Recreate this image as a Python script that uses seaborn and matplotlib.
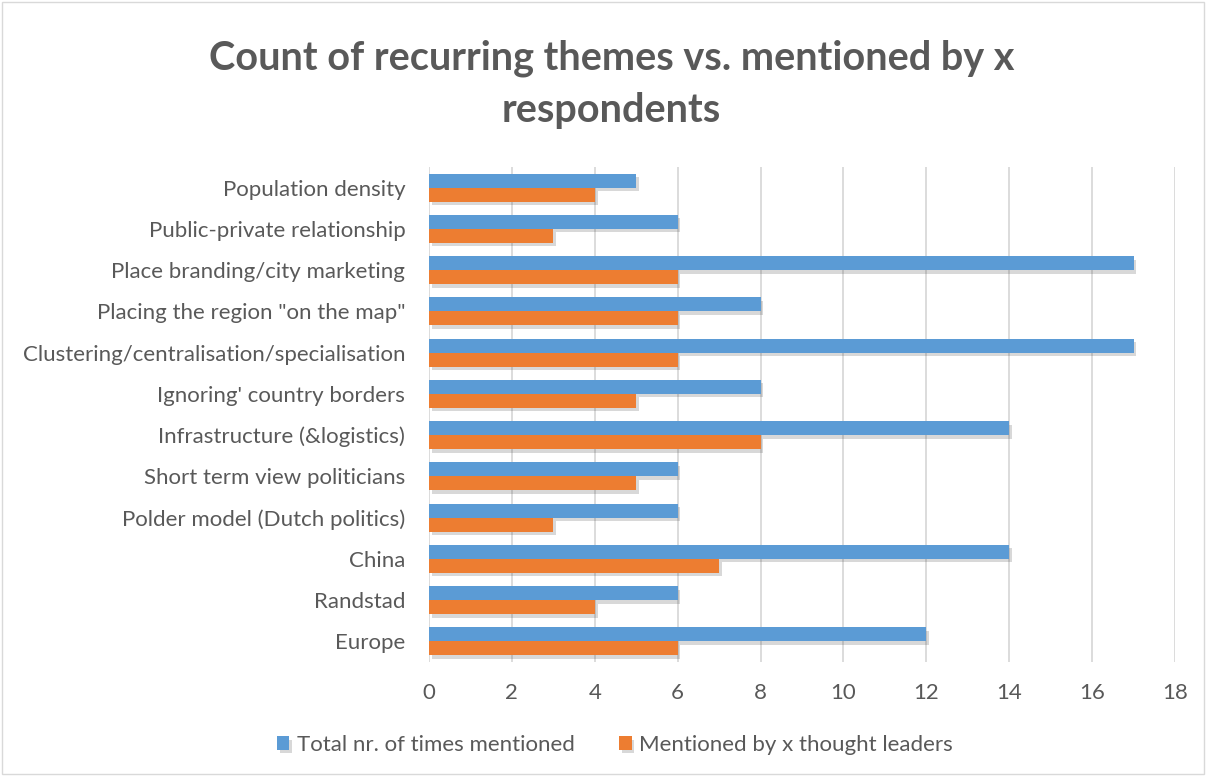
import matplotlib
matplotlib.use("Agg")
import matplotlib.pyplot as plt
import matplotlib.patheffects as pe
import seaborn as sns
import pandas as pd

categories = [
    "Population density",
    "Public-private relationship",
    "Place branding/city marketing",
    'Placing the region "on the map"',
    "Clustering/centralisation/specialisation",
    "Ignoring' country borders",
    "Infrastructure (&logistics)",
    "Short term view politicians",
    "Polder model (Dutch politics)",
    "China",
    "Randstad",
    "Europe",
]
total_mentioned = [5, 6, 17, 8, 17, 8, 14, 6, 6, 14, 6, 12]
thought_leaders = [4, 3, 6, 6, 6, 5, 8, 5, 3, 7, 4, 6]
series_names = ["Total nr. of times mentioned", "Mentioned by x thought leaders"]
x_ticks = [0, 2, 4, 6, 8, 10, 12, 14, 16, 18]

df = pd.DataFrame({
    "category": categories * 2,
    "value": total_mentioned + thought_leaders,
    "series": [series_names[0]] * len(categories) + [series_names[1]] * len(categories),
})

sns.set_theme(style="white")
plt.rcParams["font.family"] = ["Lato", "DejaVu Sans"]

fig = plt.figure(figsize=(12.06, 7.76), dpi=100)
ax = fig.add_axes([0.3557, 0.1469, 0.6186, 0.638])

palette = {series_names[0]: "#5B9BD5", series_names[1]: "#ED7D31"}
sns.barplot(data=df, y="category", x="value", hue="series", order=categories,
            hue_order=series_names, palette=palette, orient="h", width=0.68,
            ax=ax, saturation=1, legend=True, zorder=3)

for p in ax.patches:
    p.set_path_effects([pe.SimplePatchShadow(offset=(2, -2.5), alpha=0.2, shadow_rgbFace="#404040"),
                        pe.Normal()])
    p.set_edgecolor("none")

ax.set_xlim(0, 18)
ax.set_xticks(x_ticks)
ax.set_ylim(len(categories) - 0.5, -0.5)
ax.xaxis.grid(True, color="#D9D9D9", linewidth=1.3, zorder=0)
ax.set_axisbelow(True)
for s in ax.spines.values():
    s.set_visible(False)
ax.set_xlabel("")
ax.set_ylabel("")
ax.tick_params(axis="y", length=0, labelsize=16, colors="#595959", pad=17)
ax.tick_params(axis="x", length=0, labelsize=16, colors="#595959", pad=15)

handles, labels = ax.get_legend_handles_labels()
ax.legend_.remove()
fig.legend(handles, labels, loc="center", bbox_to_anchor=(0.51, 0.04), ncol=2,
           frameon=False, fontsize=16, labelcolor="#595959", handlelength=0.55,
           handleheight=0.55, columnspacing=2.0, handletextpad=0.35)

fig.text(0.507, 0.925, "Count of recurring themes vs. mentioned by x", ha="center", va="center",
         fontsize=28.5, fontweight="bold", color="#595959")
fig.text(0.507, 0.858, "respondents", ha="center", va="center",
         fontsize=28.5, fontweight="bold", color="#595959")

border = plt.Rectangle((0.002, 0.002), 0.996, 0.996, transform=fig.transFigure,
                       fill=False, edgecolor="#D9D9D9", linewidth=1)
fig.add_artist(border)

fig.savefig("out.png", dpi=100, facecolor="white")
